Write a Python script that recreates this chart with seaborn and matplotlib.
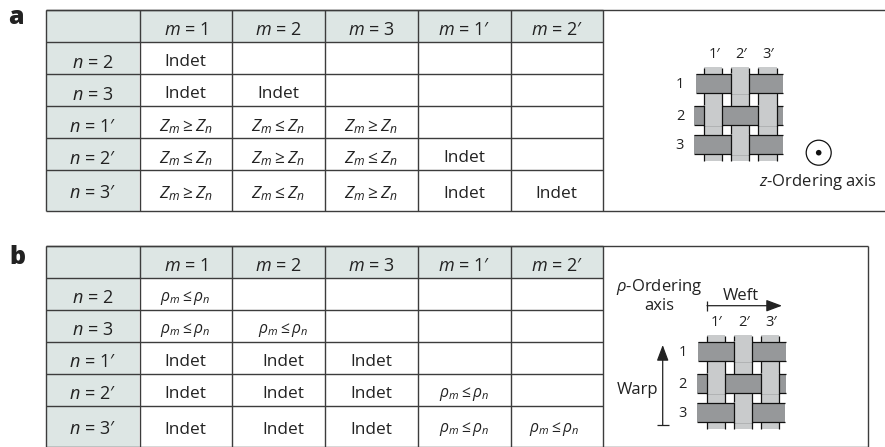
# ---------- Libraries ----------

import numpy as np
import matplotlib
matplotlib.use("Agg")
import matplotlib.pyplot as plt
from matplotlib.colors import ListedColormap
from matplotlib.patches import Circle, Rectangle
import seaborn as sns

# ---------- Table contents ----------

col_labels = ["$m$ = 1", "$m$ = 2", "$m$ = 3", "$m$ = 1′", "$m$ = 2′"]
row_labels = ["$n$ = 2", "$n$ = 3", "$n$ = 1′", "$n$ = 2′", "$n$ = 3′"]

GE = r"$Z_m\geq Z_n$"
LE = r"$Z_m\leq Z_n$"
RHO = r"$\rho_m\leq \rho_n$"

cells_a = [
    ["Indet", "", "", "", ""],
    ["Indet", "Indet", "", "", ""],
    [GE, LE, GE, "", ""],
    [LE, GE, LE, "Indet", ""],
    [GE, LE, GE, "Indet", "Indet"],
]
cells_b = [
    [RHO, "", "", "", ""],
    [RHO, RHO, "", "", ""],
    ["Indet", "Indet", "Indet", "", ""],
    ["Indet", "Indet", "Indet", RHO, ""],
    ["Indet", "Indet", "Indet", RHO, RHO],
]

warp_labels = ["1′", "2′", "3′"]
weft_labels = ["1", "2", "3"]
warp_over = [[0, 1, 0], [1, 0, 1], [0, 1, 0]]

# ---------- Layout (pixels) ----------

W, H = 885, 447
col_edges = [46, 139.5, 232, 325, 417.7, 510.7, 602.8]
row_steps = [32.5, 32, 32, 32, 32, 41]
warp_x = [(704.3, 722.3), (731.3, 749.3), (758.3, 776.7)]
weft_y = [(74.3, 93.3), (106.3, 125), (135, 153.7)]
weft_x = [(695.7, 783.3), (694.3, 783.3), (694.3, 782.7)]
LINE = "#3c3c3c"
INK = "#222222"
SHADE = "#dde6e4"
LIGHT = "#c9cbcc"
DARK = "#96989a"

sns.set_theme(style="white")
plt.rcParams["font.family"] = ["Open Sans", "DejaVu Sans"]
plt.rcParams["mathtext.fontset"] = "custom"
plt.rcParams["mathtext.rm"] = "Open Sans"
plt.rcParams["mathtext.it"] = "Open Sans:italic"
plt.rcParams["mathtext.bf"] = "Open Sans:bold"

fig = plt.figure(figsize=(W / 100, H / 100), dpi=100)

over = fig.add_axes([0, 0, 1, 1], zorder=5)
over.set_xlim(0, W)
over.set_ylim(H, 0)
over.axis("off")
over.patch.set_alpha(0)


def draw_table(top, cells, right, closed, col_shift, dy):
    y_edges = top + np.concatenate([[0], np.cumsum(row_steps)])

    # shaded header row and first column, heatmap on a grid of 8 px rows
    shade = np.zeros((6, 6))
    shade[0, :] = 1
    shade[:, 0] = 1
    fine = np.repeat(shade, [4, 4, 4, 4, 4, 5], axis=0)
    left, width = col_edges[0], col_edges[-1] - col_edges[0]
    bg = fig.add_axes([left / W, 1 - y_edges[-1] / H, width / W, (y_edges[-1] - top) / H], zorder=1)
    sns.heatmap(fine, ax=bg, cmap=ListedColormap(["white", SHADE]), cbar=False,
                xticklabels=False, yticklabels=False, vmin=0, vmax=1)

    # grid lines
    over.hlines(y_edges[:-1], col_edges[0], col_edges[-1], color=LINE, lw=1.0)
    over.hlines([y_edges[0], y_edges[-1]], col_edges[0], right, color=LINE, lw=1.0)
    over.vlines(col_edges, y_edges[0], y_edges[-1], color=LINE, lw=1.0)
    if closed:
        over.vlines(right, y_edges[0], y_edges[-1], color=LINE, lw=1.0)

    # text, the last row is taller so it needs less nudging down
    xc = [(a + b) / 2 for a, b in zip(col_edges[:-1], col_edges[1:])]
    yc = [(a + b) / 2 + dy for a, b in zip(y_edges[:-1], y_edges[1:])]
    yc[-1] -= dy - 3
    for i, lab in enumerate(col_labels):
        over.text(xc[i + 1], yc[0], lab, ha="center", va="center", fontsize=13, color=INK)
    for i, lab in enumerate(row_labels):
        over.text(xc[0], yc[i + 1], lab, ha="center", va="center", fontsize=13, color=INK)
    for r, row in enumerate(cells):
        for c, val in enumerate(row):
            if val:
                size = 12.4 if val == "Indet" else (11.3 if val == RHO else 12.5)
                over.text(xc[c + 1] + col_shift[c], yc[r + 1], val, ha="center", va="center",
                          fontsize=size, color=INK)


def draw_weave(dx, dy):
    wx = [(a + dx, b + dx) for a, b in warp_x]
    wy = [(a + dy, b + dy) for a, b in weft_y]
    y0, y1 = 67 + dy, 161 + dy

    for a, b in wx:
        over.add_patch(Rectangle((a, y0), b - a, y1 - y0, fc=LIGHT, ec="none", zorder=2))
        over.vlines([a, b], y0 + 0.5, y1 - 0.5, color="#111111", lw=0.9, zorder=2)
    for (a, b), (x0, x1) in zip(wy, weft_x):
        x0, x1 = x0 + dx, x1 + dx
        over.add_patch(Rectangle((x0, a), x1 - x0, b - a, fc=DARK, ec="none", zorder=3))
        over.hlines([a, b], x0, x1, color="#111111", lw=0.9, zorder=3)
    for r, row in enumerate(warp_over):
        for c, on_top in enumerate(row):
            if on_top:
                a, b = wx[c]
                t, u = wy[r]
                over.add_patch(Rectangle((a, t - 1), b - a, u - t + 2, fc=LIGHT, ec="none", zorder=4))
                over.vlines([a, b], t - 1, u + 1, color="#111111", lw=0.9, zorder=4)

    for (a, b), lab in zip(wx, warp_labels):
        over.text((a + b) / 2 + 1, 55 + dy, lab, ha="center", va="center", fontsize=10.5, color=INK)
    for (a, b), lab in zip(wy, weft_labels):
        over.text(680 + dx, (a + b) / 2 + 1, lab, ha="center", va="center", fontsize=10.5, color=INK)


# ---------- Panel a ----------

draw_table(9.5, cells_a, W, False, [0, 0, 0, 0, 0], 4.5)
draw_weave(0, 0)
over.add_patch(Circle((818.7, 152.7), 12.5, fc="white", ec="#111111", lw=0.9))
over.add_patch(Circle((818.7, 152.7), 2.8, fc="#111111", ec="none"))
over.text(818, 182.5, "$z$-Ordering axis", ha="center", va="center", fontsize=12, color=INK)
over.text(15.5, 17.5, "a", ha="center", va="center", fontsize=18, fontweight="heavy", color=INK)

# ---------- Panel b ----------

draw_table(245.5, cells_b, 868, True, [0, 5, 0, 0, -2.5], 3.8)
draw_weave(2.4, 268)
over.text(17, 257.5, "b", ha="center", va="center", fontsize=18, fontweight="heavy", color=INK)
over.text(659, 287, r"$\rho$-Ordering", ha="center", va="center", fontsize=12, color=INK)
over.text(659, 306, "axis", ha="center", va="center", fontsize=12, color=INK)
over.text(741, 295.5, "Weft", ha="center", va="center", fontsize=12, color=INK)
over.text(637.7, 390.5, "Warp", ha="center", va="center", fontsize=12, color=INK)

over.annotate("", xy=(782, 305.7), xytext=(707, 305.7),
              arrowprops=dict(arrowstyle="-|>,head_length=0.8,head_width=0.3", color=INK, lw=0.9, shrinkA=0, shrinkB=0))
over.vlines(707.3, 300.5, 311, color=INK, lw=0.9)
over.annotate("", xy=(662.7, 345), xytext=(662.7, 425),
              arrowprops=dict(arrowstyle="-|>,head_length=0.8,head_width=0.3", color=INK, lw=0.9, shrinkA=0, shrinkB=0))
over.hlines(425, 657, 669, color=INK, lw=0.9)

fig.savefig("out.png", dpi=100)
